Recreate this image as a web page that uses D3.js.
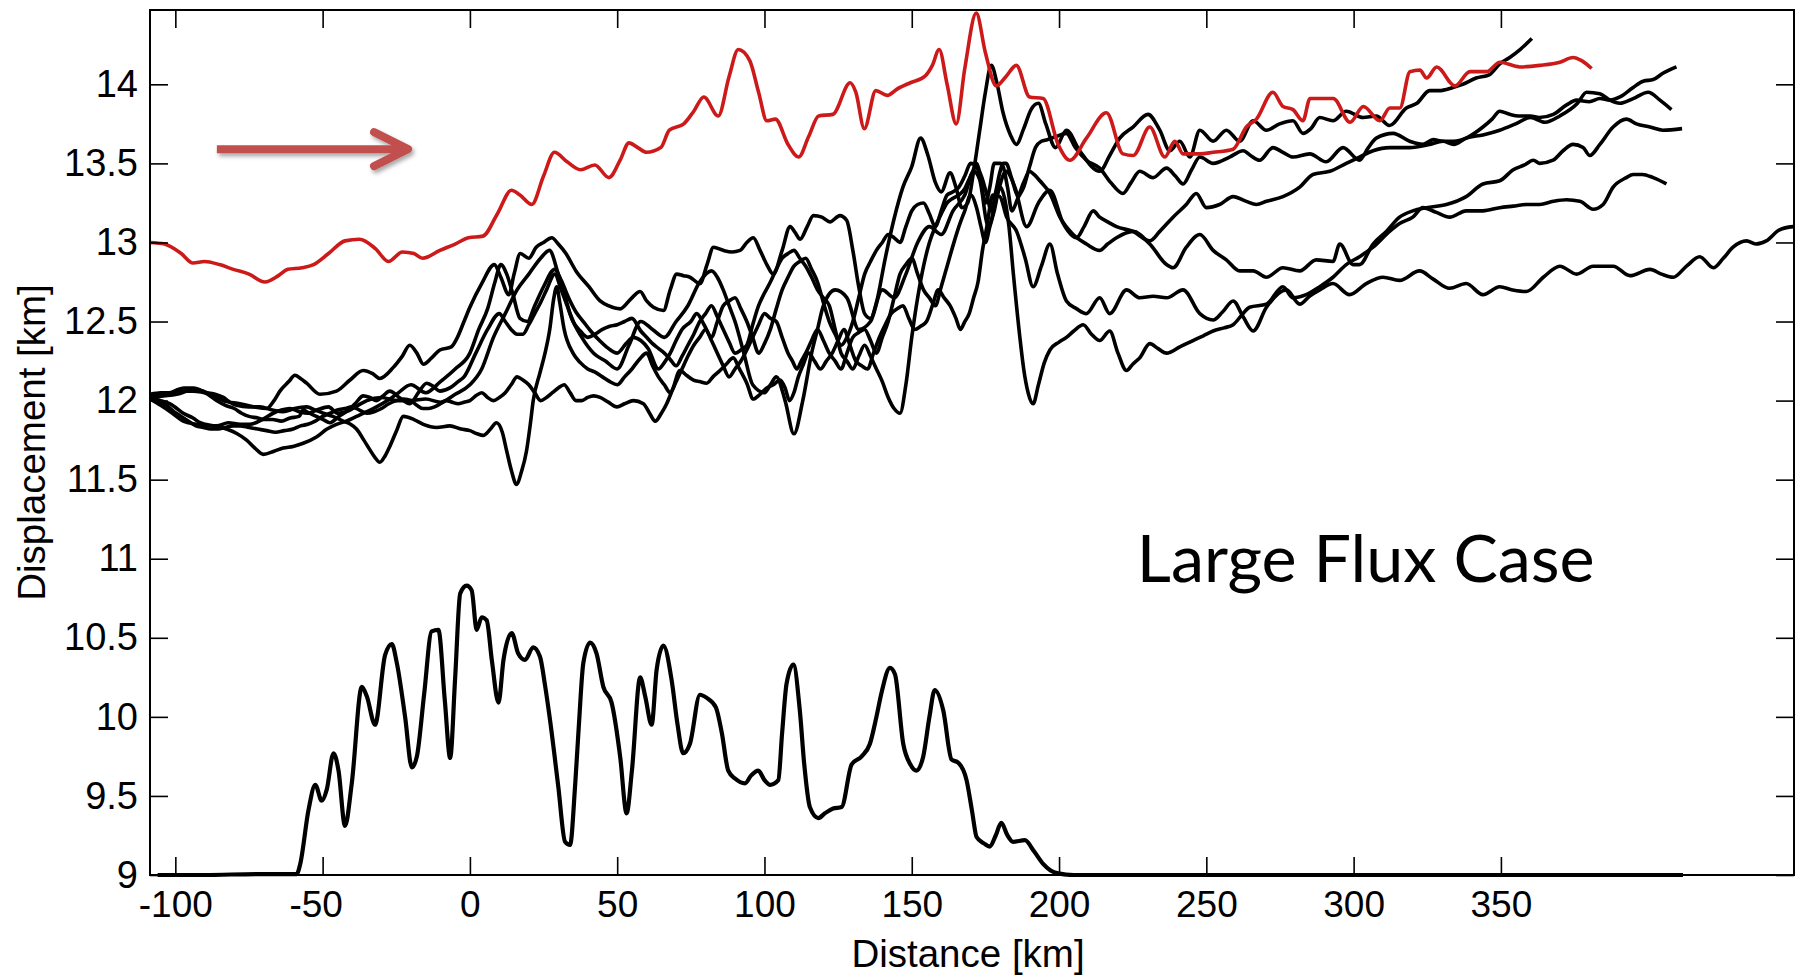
<!DOCTYPE html>
<html><head><meta charset="utf-8">
<script src="https://cdn.jsdelivr.net/npm/d3@7"></script>
<style>html,body{margin:0;padding:0;background:#fff;} svg{display:block;}</style>
</head><body>
<svg id="chart" width="1804" height="977"></svg>
<script>
const xTicks = [-100,-50,0,50,100,150,200,250,300,350];
const yTicks = [9,9.5,10,10.5,11,11.5,12,12.5,13,13.5,14];
const xLabel = "Distance [km]";
const yLabel = "Displacement [km]";
const caseLabel = "Large Flux Case";

const redSeries = [[-108.6,13.0],[-103.7,12.99],[-98,12.93],[-94.0,12.87],[-90.1,12.88],[-85,12.86],[-80.3,12.83],[-75,12.8],[-69.6,12.75],[-65,12.79],[-61.8,12.83],[-57,12.84],[-53.1,12.86],[-48,12.93],[-42.4,13.01],[-37.5,13.02],[-32,12.96],[-27.7,12.88],[-22.9,12.94],[-19,12.93],[-16.1,12.9],[-10.2,12.95],[-5,12.99],[-0.5,13.03],[4.4,13.04],[9.3,13.18],[14.1,13.33],[17,13.3],[21.0,13.24],[25,13.42],[28.7,13.57],[33,13.51],[37.5,13.46],[42.4,13.49],[47.2,13.41],[51,13.52],[54.0,13.63],[57,13.6],[59.9,13.57],[64.8,13.60],[67.7,13.71],[72.6,13.75],[76,13.83],[79.4,13.92],[84.3,13.80],[88,14.05],[91.1,14.22],[95.0,14.15],[98,13.95],[100.8,13.77],[103.7,13.78],[108,13.62],[111.6,13.54],[115,13.67],[118.4,13.80],[123.2,13.81],[129.1,14.01],[131,13.95],[133.9,13.72],[137.8,13.96],[141.7,13.93],[145,13.97],[149.5,14.01],[154.4,14.05],[157,14.12],[159.3,14.22],[162,14.0],[165.1,13.75],[168,14.1],[171.9,14.45],[175,14.2],[178.7,13.99],[182,14.05],[185.5,14.12],[190,13.92],[194.6,13.91],[199.7,13.62],[203.7,13.52],[209.3,13.66],[216.1,13.82],[221.7,13.56],[225.2,13.55],[230.8,13.73],[235.9,13.54],[239.3,13.64],[242.1,13.56],[247.8,13.56],[252.3,13.57],[259.1,13.59],[263.6,13.73],[267.0,13.78],[272.6,13.95],[276.0,13.86],[279.4,13.84],[282.8,13.77],[285.2,13.91],[293.1,13.91],[298.8,13.76],[303.3,13.86],[308.9,13.77],[312.3,13.85],[315.7,13.85],[319.1,14.08],[322.5,14.09],[324.8,14.04],[328.2,14.11],[334.4,13.99],[339.5,14.08],[345.1,14.08],[349.7,14.14],[356.4,14.11],[363.2,14.12],[370.0,14.14],[374.5,14.17],[377.4,14.15],[380.8,14.10]];

const blackA = [[-108.6,12.02],[-104,12.03],[-99.6,12.04],[-96,12.06],[-93.9,12.07],[-90.5,12.06],[-87,12.03],[-83.7,12.0],[-78.1,11.98],[-73,11.96],[-69.0,11.95],[-66.5,12.0],[-64.5,12.06],[-61.5,12.12],[-59.4,12.16],[-57.5,12.14],[-55.4,12.11],[-50.9,12.04],[-45.3,12.06],[-40.7,12.13],[-36.2,12.19],[-33,12.17],[-30.6,12.14],[-26.0,12.21],[-23,12.28],[-20.4,12.35],[-18,12.3],[-15.8,12.23],[-13,12.27],[-10.2,12.32],[-6.3,12.34],[-4.5,12.39],[-2,12.5],[0,12.59],[4,12.74],[8.3,12.86],[10.5,12.78],[13.2,12.67],[15,12.8],[17.1,12.93],[20,12.9],[22.5,12.97],[25,13.0],[27.8,13.03],[30,12.99],[32.6,12.93],[36,12.82],[40.4,12.72],[44.2,12.63],[47,12.6],[51,12.58],[54.5,12.64],[57.8,12.69],[60,12.63],[62.3,12.59],[65.7,12.57],[68,12.7],[70.2,12.80],[72.5,12.79],[74.7,12.78],[78.1,12.74],[80.5,12.86],[82.7,12.97],[86,12.95],[89,12.94],[91.7,12.95],[94,13.0],[96.2,13.03],[98.5,12.95],[100.8,12.86],[103,12.80],[106,12.95],[108.7,13.10],[110.5,13.06],[112.1,13.02],[114.5,13.1],[116.6,13.17],[119.5,13.16],[122.2,13.13],[125.6,13.17],[127.9,13.14],[130,12.95],[132,12.72],[134,12.55],[136,12.52],[138,12.62],[141,12.9],[144,13.15],[147,13.35],[150,13.48],[153,13.66],[155.5,13.55],[158,13.38],[160,13.32],[163,13.44],[165,13.35],[167,13.22],[169,13.25],[171,13.45],[173,13.7],[175,13.95],[177,14.12],[179,14.0],[181,13.82],[183.5,13.68],[185.5,13.62],[188,13.72],[190.5,13.84],[193,13.88],[195.5,13.75],[198.8,13.6],[202.5,13.71],[207.0,13.58],[213.8,13.45],[217.2,13.55],[220.6,13.66],[225.1,13.73],[230.2,13.81],[234.2,13.71],[237.6,13.58],[241.0,13.64],[244.4,13.54],[247.8,13.71],[252.3,13.64],[256.8,13.71],[261.3,13.64],[265.9,13.77],[270.4,13.71],[274.9,13.75],[279.4,13.77],[282.8,13.69],[285.5,13.72],[288.5,13.79],[293.0,13.77],[297.5,13.83],[303.2,13.79],[307.7,13.80],[312.2,13.74],[317.9,13.85],[321.5,13.88],[325.8,13.96],[329,13.96],[333.7,13.98],[337,14.0],[341.6,14.04],[346,14.06],[349.6,14.13],[353,14.17],[356.5,14.22],[360.5,14.29]];

const blackB = [[-108.6,12.02],[-105,12.0],[-101.8,11.98],[-99.5,11.95],[-97.3,11.92],[-94,11.89],[-91.6,11.86],[-87,11.84],[-82.6,11.82],[-79,11.79],[-75.8,11.75],[-73,11.7],[-70.1,11.66],[-66.5,11.68],[-63.4,11.70],[-60,11.71],[-56.6,11.73],[-52.1,11.77],[-48.5,11.82],[-45.3,11.85],[-42,11.87],[-38.5,11.90],[-35,11.93],[-31.7,11.96],[-28,12.0],[-24.9,12.04],[-20,12.1],[-15,12.05],[-10,12.12],[-5,12.2],[0,12.3],[3,12.45],[6,12.58],[8.5,12.75],[10.5,12.86],[12.5,12.8],[14.5,12.68],[17,12.52],[19.5,12.5],[22,12.6],[25,12.72],[28.8,12.83],[31,12.76],[33.5,12.65],[36,12.56],[38.5,12.5],[41,12.44],[44,12.38],[47,12.33],[50,12.3],[53,12.36],[55.5,12.4],[58,12.38],[60.5,12.33],[64,12.2],[66,12.24],[68,12.3],[70,12.38],[72,12.45],[75,12.5],[77,12.55],[79.5,12.48],[82,12.4],[84,12.5],[86,12.6],[88,12.63],[90,12.65],[92,12.58],[94,12.5],[96,12.4],[98,12.3],[100,12.36],[102,12.45],[104,12.58],[106,12.7],[108,12.78],[110,12.85],[112,12.88],[114,12.9],[116,12.83],[118,12.75],[120,12.62],[122,12.5],[124,12.42],[126,12.35],[128,12.4],[130,12.5],[132,12.65],[134,12.8],[136,12.88],[138,12.95],[140,13.0],[142,13.05],[144,13.03],[146,13.0],[148,13.1],[150,13.2],[152,13.24],[154,13.25],[156,13.18],[158,13.1],[160,13.2],[162,13.3],[164,13.32],[166,13.35],[168,13.42],[170,13.5],[172,13.48],[173.5,13.38],[175,13.25],[176.5,13.35],[178,13.5],[180,13.5],[181,13.48],[182.5,13.35],[184,13.2],[186,13.28],[188,13.35],[190,13.48],[192,13.6],[194,13.64],[196,13.65],[199,13.67],[202.5,13.69],[205.5,13.6],[209.3,13.52],[213.8,13.47],[217.5,13.38],[221.7,13.31],[224.5,13.38],[227.4,13.45],[231.9,13.41],[236.5,13.47],[239.5,13.42],[242.1,13.37],[245,13.46],[247.8,13.54],[252.3,13.50],[257.9,13.54],[262.5,13.58],[265,13.55],[268.1,13.52],[272.6,13.60],[276,13.57],[279.4,13.54],[285.1,13.56],[290.7,13.51],[296.4,13.60],[302.0,13.52],[305,13.6],[307.7,13.66],[313.4,13.69],[319.0,13.64],[323.5,13.62],[327,13.65],[330.3,13.64],[334,13.64],[338.2,13.66],[343.9,13.73],[347,13.78],[349.6,13.83],[353,13.81],[356,13.8],[360,13.80],[363,13.79],[367.8,13.81],[372.3,13.87],[375.7,13.90],[380,13.89],[383.6,13.91],[387,13.9],[390.4,13.92],[394.9,13.98],[398.3,14.02],[401.7,14.03],[405,14.07],[409.6,14.11]];

const blackC = [[-108.6,12.01],[-105,11.97],[-101,11.92],[-97.3,11.87],[-93,11.85],[-89,11.84],[-86.0,11.84],[-82,11.86],[-78,11.85],[-74.7,11.85],[-70.5,11.88],[-66.8,11.92],[-64,11.94],[-61.1,11.95],[-58,11.93],[-55,11.92],[-52,11.94],[-48,11.96],[-45,11.92],[-42,11.93],[-38,11.97],[-35,12.0],[-30,12.02],[-25,12.0],[-20,12.0],[-15,12.01],[-10,11.99],[-5,12.04],[0,12.1],[4,12.2],[8,12.4],[12,12.55],[16,12.7],[20,12.8],[24,12.9],[27,12.95],[30,12.8],[32,12.68],[34,12.55],[38,12.4],[42,12.3],[46,12.25],[50,12.2],[54,12.35],[58,12.5],[62,12.45],[66,12.4],[70,12.5],[74,12.6],[78,12.75],[82,12.82],[84,12.78],[86,12.7],[88,12.6],[90,12.5],[93,12.3],[96,12.1],[100,12.05],[102,12.1],[104,12.15],[107,12.0],[110,11.79],[113,12.0],[116,12.3],[118,12.45],[120,12.6],[124,12.7],[128,12.65],[132,12.45],[136,12.5],[140,12.7],[144,12.65],[148,12.8],[152,13.0],[156,13.1],[160,13.05],[164,13.2],[168,13.3],[171,13.45],[173,13.4],[176,13.1],[179,13.3],[182,13.45],[185,13.35],[189,13.1],[193,13.25],[196.9,13.33],[201.4,13.12],[205.9,13.03],[208.5,13.1],[211.6,13.20],[213.8,13.16],[216.5,13.13],[219.5,13.10],[225.1,13.07],[230.8,13.01],[234.2,13.07],[238.7,13.16],[243.2,13.24],[246.6,13.31],[250.0,13.22],[254.5,13.24],[259.1,13.29],[263.6,13.26],[267,13.24],[270.4,13.26],[276.0,13.29],[281.7,13.35],[286.2,13.43],[291.9,13.45],[297.5,13.50],[302.0,13.54],[306.6,13.58],[312.2,13.60],[319.0,13.60],[325.8,13.62],[330.3,13.64],[334,13.62],[338.2,13.66],[343.9,13.68],[349.6,13.71],[355,13.75],[360,13.79],[365,13.76],[370,13.80],[376,13.88],[379.1,13.95],[383.6,13.94],[387,13.9],[390.4,13.88],[394.9,13.91],[400.0,13.95],[404.0,13.90],[407.9,13.84]];

const blackD = [[-108.6,12.04],[-105,12.05],[-102,12.05],[-99,12.07],[-97,12.08],[-94,12.08],[-92,12.07],[-89,12.04],[-86,12.0],[-83,11.97],[-80,11.95],[-77.5,11.92],[-75,11.9],[-72,11.89],[-70,11.88],[-67,11.88],[-64,11.87],[-61,11.89],[-58,11.9],[-56.6,11.94],[-54.5,11.92],[-52.1,11.90],[-49.8,11.88],[-47.5,11.86],[-44.5,11.9],[-41.9,11.93],[-39,11.98],[-36.2,12.03],[-34,12.02],[-31.7,12.0],[-29.5,12.03],[-27.2,12.06],[-24,12.02],[-20.4,11.98],[-17.5,12.05],[-14.7,12.11],[-12.5,12.09],[-10.2,12.06],[-6.8,12.08],[-4,12.12],[-2,12.15],[2,12.3],[6,12.45],[10,12.55],[12,12.5],[14,12.45],[16,12.42],[18,12.42],[20,12.48],[22,12.55],[24,12.62],[26,12.7],[28.8,12.8],[31,12.7],[33,12.6],[35,12.5],[37.5,12.44],[40,12.4],[42.5,12.42],[45,12.45],[47.5,12.47],[50,12.48],[52.5,12.5],[55,12.52],[58,12.44],[60,12.4],[62,12.36],[64,12.33],[66,12.3],[68,12.26],[70,12.22],[72,12.28],[74,12.35],[76,12.42],[78,12.5],[80,12.55],[82,12.6],[84,12.53],[86,12.45],[88,12.37],[90,12.3],[92,12.32],[94,12.35],[96,12.48],[98,12.6],[100,12.68],[102,12.75],[104,12.83],[106,12.9],[108,12.93],[110,12.95],[112,12.9],[114,12.85],[116,12.78],[118,12.7],[120,12.65],[122,12.6],[124,12.45],[126,12.3],[128,12.25],[130,12.2],[132,12.28],[134,12.35],[136,12.28],[138,12.2],[140,12.12],[142,12.02],[144,11.95],[146,11.92],[148,12.1],[150,12.4],[152,12.65],[154,12.85],[156,13.0],[158,13.1],[160,13.18],[162,13.25],[164,13.28],[166,13.3],[168,13.34],[169,13.38],[170.5,13.44],[172,13.5],[173,13.45],[174,13.4],[175.5,13.3],[177,13.2],[178.5,13.32],[180,13.45],[181,13.5],[182,13.5],[184,13.4],[186,13.3],[188,13.38],[190,13.45],[191.5,13.43],[193.5,13.39],[196.9,13.31],[200.3,13.16],[204.8,13.05],[209.3,12.99],[213.8,12.95],[216.5,12.99],[219.5,13.03],[225.1,13.07],[230.8,12.99],[236.5,12.86],[238.7,12.84],[243.2,12.97],[247.8,13.05],[252.3,12.95],[256.8,12.89],[261.3,12.82],[265.9,12.82],[270.4,12.78],[276.0,12.84],[281.7,12.82],[287.3,12.89],[293.0,12.88],[295.3,12.99],[299.8,12.86],[302.0,12.86],[306.6,12.99],[311.1,13.07],[315.6,13.16],[320.1,13.20],[324.7,13.22],[331.5,13.24],[338.2,13.29],[343.9,13.37],[349.6,13.39],[354.2,13.46],[358,13.49],[361,13.52],[363.2,13.50],[367.7,13.52],[371.1,13.58],[374.5,13.62],[377.9,13.60],[380.2,13.55],[383.6,13.62],[388.1,13.73],[392.6,13.78],[396,13.75],[400.6,13.73],[405,13.71],[411.5,13.72]];

const blackE = [[-108.6,12.03],[-104,12.04],[-100,12.05],[-97,12.06],[-93.9,12.06],[-90,12.05],[-86.5,12.04],[-83.7,12.02],[-81.5,11.99],[-79.2,11.97],[-75,11.96],[-71.3,11.96],[-67,11.94],[-63.4,11.93],[-59.5,11.95],[-55.4,11.96],[-52.5,11.94],[-49.8,11.92],[-46.5,11.9],[-43,11.87],[-40.5,11.85],[-38.5,11.82],[-36,11.75],[-34,11.69],[-32.2,11.64],[-30.6,11.61],[-28.8,11.65],[-27.2,11.71],[-24.9,11.81],[-22.6,11.90],[-19,11.88],[-15.8,11.85],[-11.3,11.83],[-6.8,11.84],[-3,11.82],[0,11.81],[2.5,11.79],[4.5,11.78],[7,11.82],[9.0,11.86],[11,11.8],[12.5,11.68],[14.2,11.55],[15.8,11.47],[17.5,11.55],[19.2,11.68],[20.5,11.85],[21.5,12.0],[23.7,12.17],[25.5,12.3],[27.1,12.45],[28.5,12.65],[29.5,12.72],[30.5,12.62],[32,12.45],[35,12.3],[37.5,12.24],[40,12.2],[42.5,12.18],[45,12.15],[47.5,12.12],[50,12.1],[52.5,12.15],[55,12.2],[57.5,12.26],[60,12.3],[62,12.22],[64,12.15],[66,12.1],[68,12.05],[70,12.12],[72,12.2],[74,12.28],[76,12.35],[78,12.4],[80,12.45],[82,12.38],[84,12.3],[86,12.22],[88,12.15],[90,12.2],[92,12.25],[94,12.32],[96,12.4],[98,12.48],[100,12.55],[102,12.52],[104,12.5],[106,12.4],[108,12.3],[109.5,12.25],[111,12.2],[112.5,12.25],[114,12.3],[116,12.38],[118,12.45],[120,12.38],[122,12.3],[124,12.25],[126,12.2],[128,12.3],[130,12.4],[132,12.43],[134,12.45],[136,12.38],[138,12.3],[140,12.4],[142,12.5],[144,12.65],[146,12.8],[148,12.86],[150,12.9],[152,12.8],[154,12.7],[156,12.65],[158,12.6],[160,12.72],[162,12.85],[164,12.98],[166,13.1],[168,13.2],[170,13.3],[172,13.22],[173.5,13.1],[175,13.0],[176.5,13.1],[178,13.2],[180,13.35],[181.5,13.28],[183,13.1],[184.5,12.8],[186.7,12.4],[188,12.2],[189.5,12.05],[191.2,11.98],[193,12.1],[195,12.24],[196.9,12.32],[200,12.37],[202.5,12.40],[205,12.44],[208.2,12.48],[211,12.42],[213.8,12.38],[217.2,12.44],[220,12.3],[222.9,12.19],[225,12.23],[227.4,12.27],[230.8,12.36],[233.5,12.33],[236.5,12.30],[241.0,12.34],[245.5,12.38],[249,12.41],[252.3,12.44],[256,12.46],[259.1,12.48],[262,12.54],[264.7,12.59],[270.4,12.61],[276.0,12.72],[279.4,12.65],[283.9,12.67],[288.5,12.72],[293.0,12.78],[297.5,12.86],[302.0,12.91],[306.6,12.97],[312.2,13.07],[315.6,13.12],[320.1,13.16],[323.5,13.22],[328.1,13.19],[332.6,13.16],[338.2,13.20],[343.9,13.20],[349.6,13.22],[354.2,13.23],[358.7,13.24],[363.2,13.24],[367.8,13.26],[372.3,13.27],[376.8,13.26],[381.3,13.21],[384.7,13.24],[388.1,13.35],[392.6,13.41],[394.9,13.43],[398,13.43],[401.7,13.41],[406.2,13.37]];

const blackF = [[-108.6,12.02],[-106,12.0],[-103,11.97],[-100.5,11.93],[-98,11.9],[-95.5,11.87],[-93,11.84],[-90.5,11.83],[-88,11.82],[-85.5,11.82],[-83,11.83],[-80.5,11.84],[-78,11.84],[-75,11.83],[-72,11.82],[-69,11.81],[-66,11.8],[-63,11.81],[-60,11.82],[-57.5,11.84],[-55,11.85],[-52.5,11.87],[-50,11.9],[-47.5,11.92],[-45,11.94],[-42.5,11.95],[-40,11.96],[-37.5,11.94],[-35,11.92],[-32.5,11.93],[-30,11.95],[-27.5,11.98],[-25,12.0],[-22.5,12.01],[-20,12.0],[-18,11.97],[-16,11.95],[-14,11.95],[-12,11.96],[-10,11.98],[-8,12.0],[-6,11.99],[-4,11.98],[-2,11.99],[0,12.0],[2,12.03],[4,12.05],[6,12.02],[8,12.0],[10,12.02],[12,12.05],[14,12.1],[16,12.15],[18,12.13],[20,12.1],[22,12.05],[24,12.0],[26,12.02],[28,12.05],[30,12.08],[32,12.1],[34,12.05],[36,12.0],[38,12.0],[40,12.02],[42,12.03],[44.2,12.02],[47,11.99],[49.9,11.96],[52.5,11.98],[55.5,12.0],[58.9,11.98],[61,11.92],[62.9,11.87],[65,11.92],[66.8,11.98],[69,12.08],[71.3,12.19],[73.5,12.16],[75.9,12.13],[78,12.12],[80.4,12.11],[82.5,12.15],[84.9,12.19],[87,12.23],[89.4,12.27],[91.5,12.2],[94.0,12.11],[96.2,12.01],[98.5,12.04],[100.8,12.08],[103,12.1],[105.3,12.13],[107,12.08],[108.5,12.0],[110,12.05],[111.5,12.15],[113,12.22],[115,12.3],[117,12.25],[119,12.2],[121,12.25],[123,12.3],[125,12.38],[127,12.45],[129,12.35],[131,12.25],[133,12.22],[135,12.2],[137,12.3],[139,12.4],[141,12.48],[143,12.55],[145,12.58],[147,12.6],[149,12.52],[151,12.45],[153,12.47],[155,12.5],[157,12.6],[159,12.7],[161,12.65],[163,12.6],[165,12.52],[166.5,12.45],[168,12.5],[169.5,12.55],[171,12.65],[172.5,12.75],[174,12.95],[175.5,13.1],[177.5,13.3],[179.9,13.29],[182.2,13.16],[185.6,13.07],[188.5,12.9],[191.2,12.72],[194,12.85],[196.9,12.99],[199.5,12.8],[202.5,12.63],[206,12.58],[209.3,12.55],[213.8,12.65],[217.2,12.55],[222.9,12.70],[227.4,12.65],[232,12.66],[236.5,12.65],[242.1,12.70],[247.8,12.55],[252.3,12.51],[255.5,12.56],[259.1,12.63],[262.5,12.53],[265.9,12.44],[270.4,12.59],[277.2,12.70],[281.7,12.61],[285,12.66],[288.5,12.70],[293.0,12.74],[298.6,12.67],[304.3,12.74],[310.0,12.78],[315.6,12.76],[322.4,12.82],[326.9,12.77],[332.6,12.71],[338.2,12.74],[343.9,12.67],[349.6,12.72],[354,12.7],[358.7,12.69],[364.4,12.78],[370.0,12.85],[375.7,12.80],[381.3,12.85],[388.1,12.85],[393.8,12.79],[400.6,12.83],[404.5,12.8],[408.5,12.78],[413,12.85],[417.5,12.91],[422.1,12.84],[425.5,12.9],[428.8,12.97],[433.4,13.01],[436.5,12.99],[440.1,13.01],[444.6,13.08],[449.2,13.10]];

const bottomSeries = [[-106,9.0],[-90,9.0],[-72,9.006],[-58.8,9.006],[-57.6,9.07],[-54.8,9.41],[-52.5,9.57],[-50.3,9.47],[-48.6,9.54],[-46.3,9.77],[-44.6,9.66],[-42.4,9.31],[-40.1,9.58],[-36.7,10.19],[-35.0,10.13],[-32.2,9.95],[-28.8,10.39],[-26.5,10.46],[-24.8,10.34],[-22,10.0],[-19.7,9.68],[-18.0,9.75],[-15.5,10.15],[-13.0,10.54],[-10.7,10.55],[-8.5,10.1],[-6.7,9.74],[-5,10.25],[-3.3,10.78],[-1.1,10.83],[0.6,10.80],[2.3,10.55],[4.0,10.63],[5.7,10.61],[7.5,10.35],[9.7,10.09],[11.4,10.36],[14.2,10.53],[16.4,10.40],[18.7,10.36],[21.5,10.44],[23.8,10.38],[25.5,10.2],[27.2,9.98],[30.0,9.56],[32.3,9.21],[34.0,9.19],[35.7,9.56],[37,9.95],[38.5,10.34],[40.8,10.47],[43.0,10.40],[45.3,10.19],[48.1,10.09],[51.0,9.75],[53.2,9.39],[55.0,9.66],[57.8,10.25],[59.5,10.13],[61.7,9.95],[63.4,10.30],[65.7,10.45],[68.5,10.23],[70.5,9.95],[72.4,9.77],[74.7,9.83],[78.1,10.14],[80.4,10.12],[83.5,10.06],[85.5,9.9],[87.7,9.66],[90.0,9.61],[93.4,9.58],[95.5,9.63],[97.9,9.66],[100,9.6],[101.9,9.57],[104.7,9.60],[106,9.9],[107.5,10.21],[109.8,10.33],[112.0,10.04],[113.5,9.7],[115.4,9.43],[118.3,9.36],[120.5,9.39],[123.3,9.42],[126.2,9.43],[129.6,9.70],[133,9.75],[135.8,9.83],[138,10.0],[139.7,10.15],[142.6,10.31],[144.3,10.27],[147.1,9.83],[149.5,9.7],[151.6,9.66],[153.9,9.75],[156,10.0],[157.8,10.17],[160.7,10.04],[163.5,9.73],[165.8,9.71],[168.6,9.60],[170.5,9.4],[172.0,9.24],[174.5,9.2],[176.5,9.18],[178.5,9.25],[180.4,9.33],[182.5,9.25],[184.4,9.21],[188.4,9.22],[191.5,9.15],[194.6,9.07],[197,9.03],[199.7,9.01],[205,9.0],[300,9.0],[411.8,9.0]];

const arrowData = {from:[-85.9,13.59], to:[-21.0,13.59]};
const labelPos = [226.4, 10.855];

const blackSeries = [blackA, blackB, blackC, blackD, blackE, blackF];

const svg = d3.select("#chart");
const L=150, R=1794, T=10, B=875;
const x = d3.scaleLinear().domain([-108.6,449.5]).range([L,R]);
const y = d3.scaleLinear().domain([9,14.47]).range([B,T]);
const font = "'Liberation Sans', Arial, Helvetica, sans-serif";

const defs = svg.append("defs");
defs.append("clipPath").attr("id","plotclip").append("rect")
  .attr("x",L).attr("y",T-2).attr("width",R-L).attr("height",B-T+4);
const f = defs.append("filter").attr("id","shadow").attr("x","-20%").attr("y","-50%").attr("width","140%").attr("height","200%");
f.append("feDropShadow").attr("dx",2).attr("dy",3).attr("stdDeviation",2).attr("flood-color","#000").attr("flood-opacity",0.35);

svg.append("rect").attr("width",1804).attr("height",977).attr("fill","#fff");

const line = d3.line().x(d=>x(d[0])).y(d=>y(d[1])).curve(d3.curveMonotoneX);
const plot = svg.append("g").attr("clip-path","url(#plotclip)");
plot.selectAll("path.black").data(blackSeries).join("path")
  .attr("class","black").attr("d",line)
  .attr("fill","none").attr("stroke","#000").attr("stroke-width",3.6)
  .attr("stroke-linejoin","round");
plot.append("path").datum(redSeries).attr("d",line)
  .attr("fill","none").attr("stroke","#cc1a1a").attr("stroke-width",3.6).attr("stroke-linejoin","round");
plot.append("path").datum(bottomSeries).attr("d",line)
  .attr("fill","none").attr("stroke","#000").attr("stroke-width",4.2).attr("stroke-linejoin","round");

// axes
const fmt = d => String(d);
const gx = svg.append("g").attr("transform",`translate(0,${B})`)
  .call(d3.axisBottom(x).tickValues(xTicks).tickSizeInner(-18).tickSizeOuter(0).tickPadding(16).tickFormat(fmt));
const gxt = svg.append("g").attr("transform",`translate(0,${T})`)
  .call(d3.axisTop(x).tickValues(xTicks).tickSizeInner(-18).tickSizeOuter(0).tickFormat(""));
const gy = svg.append("g").attr("transform",`translate(${L},0)`)
  .call(d3.axisLeft(y).tickValues(yTicks).tickSizeInner(-18).tickSizeOuter(0).tickPadding(12).tickFormat(fmt));
const gyr = svg.append("g").attr("transform",`translate(${R},0)`)
  .call(d3.axisRight(y).tickValues(yTicks).tickSizeInner(-18).tickSizeOuter(0).tickFormat(""));
[gx,gxt,gy,gyr].forEach(g=>{
  g.select(".domain").remove();
  g.selectAll(".tick line").attr("stroke","#000").attr("stroke-width",1.6);
  g.selectAll(".tick text").attr("fill","#000").style("font-family",font).style("font-size","37px");
});
gx.selectAll(".tick text").attr("dx", d => d === -50 ? -7 : 0);
gy.selectAll(".tick text").style("font-size","38px");

svg.append("rect").attr("x",L).attr("y",T).attr("width",R-L).attr("height",B-T)
  .attr("fill","none").attr("stroke","#000").attr("stroke-width",2);

svg.append("text").attr("x",968).attr("y",967).attr("text-anchor","middle")
  .style("font-family",font).style("font-size","38.5px").attr("fill","#000").text(xLabel);
svg.append("text").attr("transform",`translate(45,${(T+B)/2}) rotate(-90)`).attr("text-anchor","middle")
  .style("font-family",font).style("font-size","38.5px").attr("fill","#000").text(yLabel);

const cl = svg.append("text").attr("x",x(labelPos[0])).attr("y",y(labelPos[1]))
  .style("font-family","Lato, 'Open Sans', sans-serif").style("font-size","64px").attr("fill","#000").text(caseLabel);
const w = cl.node().getComputedTextLength();
cl.style("font-size",(64*458/w).toFixed(2)+"px");

// arrow
const ag = svg.append("g").attr("filter","url(#shadow)");
const ax0 = x(arrowData.from[0]), ax1 = x(arrowData.to[0]), ay = y(arrowData.to[1]);
ag.append("line").attr("x1",ax0).attr("y1",ay).attr("x2",ax1-3).attr("y2",ay)
  .attr("stroke","#c0504d").attr("stroke-width",8);
ag.append("path").attr("d",`M${ax1-34},${ay-17}L${ax1},${ay}L${ax1-34},${ay+17}`)
  .attr("fill","none").attr("stroke","#c0504d").attr("stroke-width",8)
  .attr("stroke-linecap","round").attr("stroke-linejoin","round");
</script>
</body></html>
